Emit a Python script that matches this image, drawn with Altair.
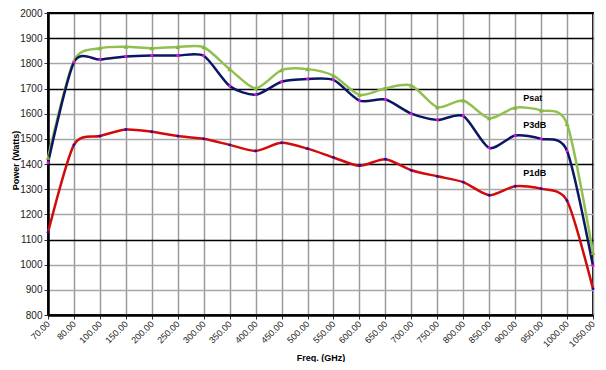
import altair as alt
import pandas as pd

freqs = ["70.00", "80.00", "100.00", "150.00", "200.00", "250.00", "300.00", "350.00",
         "400.00", "450.00", "500.00", "550.00", "600.00", "650.00", "700.00", "750.00",
         "800.00", "850.00", "900.00", "950.00", "1000.00", "1050.00"]
psat = [1425, 1810, 1860, 1866, 1860, 1865, 1864, 1777, 1701, 1773, 1777, 1751,
        1675, 1701, 1712, 1626, 1652, 1582, 1624, 1613, 1559, 1046]
p3db = [1405, 1804, 1815, 1827, 1831, 1831, 1830, 1710, 1675, 1727, 1738, 1734,
        1652, 1656, 1600, 1575, 1591, 1464, 1513, 1500, 1452, 995]
p1db = [1128, 1476, 1511, 1537, 1528, 1511, 1500, 1476, 1452, 1484, 1461, 1426,
        1393, 1419, 1375, 1351, 1328, 1276, 1312, 1302, 1254, 904]
series_names = ["Psat", "P3dB", "P1dB"]
series_colors = ["#92c050", "#0b1763", "#d20a0a"]
label_freq = "900.00"
label_values = [1664, 1555, 1364]
y_ticks = list(range(800, 2001, 100))
dark_grid = [1100, 1400, 1700, 1900, 2000]

rows = []
for name, vals in zip(series_names, [psat, p3db, p1db]):
    for f, v in zip(freqs, vals):
        rows.append({"freq": f, "series": name, "value": v})
df = pd.DataFrame(rows)
lab_df = pd.DataFrame({"series": series_names, "freq": [label_freq] * 3, "value": label_values})

FONT = "Liberation Sans"

x = alt.X("freq:O", sort=freqs,
          scale=alt.Scale(type="point", padding=0, domain=freqs),
          axis=alt.Axis(title="Freq. (GHz)", labelAngle=-45, labelAlign="right",
                        labelBaseline="middle", labelFontSize=9, labelFont=FONT,
                        labelColor="#222", labelPadding=3, tickSize=4, tickColor="#333",
                        grid=True, gridColor="#9a9a9a", gridWidth=1.5,
                        domainColor="black", domainWidth=2.5,
                        titleFont=FONT, titleFontWeight="bold", titleFontSize=9,
                        titleColor="black", titleY=42, titleBaseline="middle"))
y = alt.Y("value:Q",
          scale=alt.Scale(domain=[800, 2000], nice=False, zero=False),
          axis=alt.Axis(title="Power (Watts)", values=y_ticks, format="d", labelFontSize=10,
                        labelFont=FONT, labelColor="#222", labelPadding=2,
                        tickSize=4, tickColor="#333",
                        grid=True,
                        gridColor={"condition": {"test": "indexof(%s, datum.value) >= 0" % dark_grid,
                                                 "value": "black"},
                                   "value": "#a6a6a6"},
                        gridWidth=1.3,
                        domainColor="black", domainWidth=2.5,
                        titleFont=FONT, titleFontWeight="bold", titleFontSize=9,
                        titleColor="black", titleX=-33, titleY=147,
                        titleBaseline="middle", titleAngle=-90))

color = alt.Color("series:N", scale=alt.Scale(domain=series_names, range=series_colors), legend=None)

lines = alt.Chart(df).mark_line(interpolate="cardinal", tension=0.25, strokeWidth=2.5).encode(
    x=x, y=y, color=color, detail="series:N")

pts_psat = alt.Chart(df).transform_filter("datum.series == 'Psat'").mark_point(
    shape="triangle-up", filled=True, size=22, color="#86b440", opacity=1).encode(x=x, y=y)
pts_p3 = alt.Chart(df).transform_filter("datum.series == 'P3dB'").mark_circle(
    size=8, color="#ff00ff", opacity=1).encode(x=x, y=y)
pts_p1 = alt.Chart(df).transform_filter("datum.series == 'P1dB'").mark_circle(
    size=8, color="#1010c0", opacity=1).encode(x=x, y=y)

labels = alt.Chart(lab_df).mark_text(align="left", baseline="middle", dx=8, fontWeight="bold",
                                     fontSize=9, font=FONT, color="black").encode(
    x=x, y=y, text="series:N")

chart = alt.layer(lines, pts_psat, pts_p3, pts_p1, labels).properties(
    width=545, height=302,
    padding={"left": 40, "top": 5, "right": 5, "bottom": 47},
    autosize=alt.AutoSizeParams(type="none"),
    background="white",
).configure_view(stroke="black", strokeWidth=2)

chart.save("out.html", embed_options={"renderer": "svg", "actions": False})
